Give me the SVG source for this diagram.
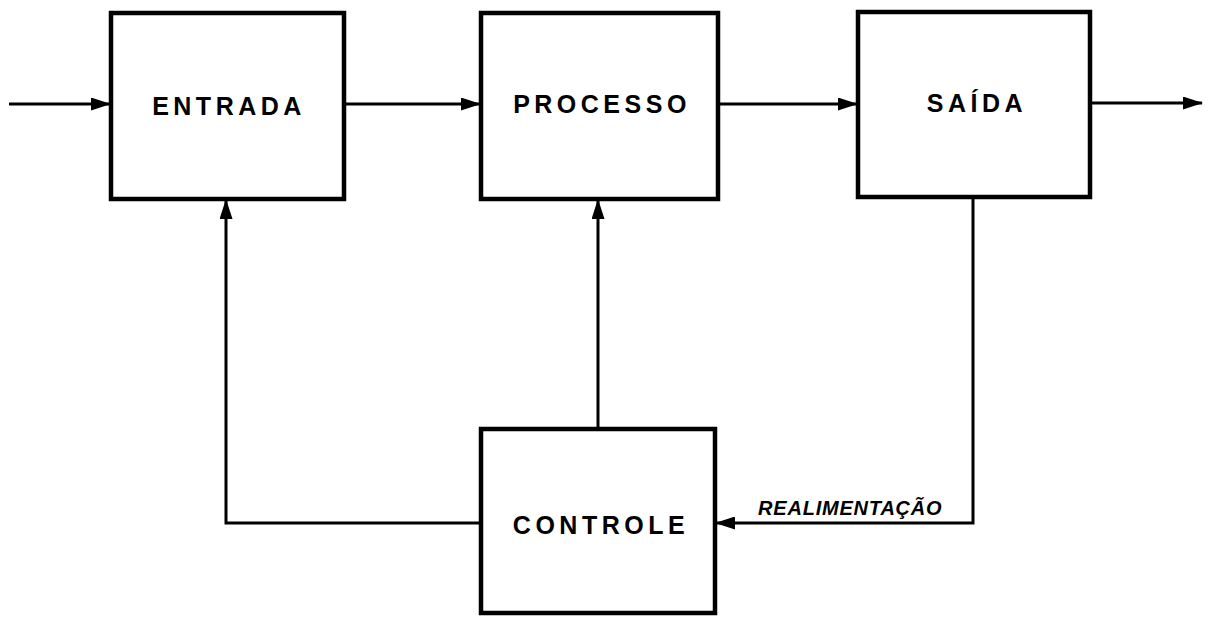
<svg xmlns="http://www.w3.org/2000/svg" width="1209" height="617" viewBox="0 0 1209 617">
  <style>
    .box { fill: #fff; stroke: #000; stroke-width: 4.5; }
    .lbl { font-family: "Liberation Sans", Arial, sans-serif; font-weight: bold; font-size: 25px; letter-spacing: 4.5px; text-anchor: middle; fill: #000; }
    .wire { fill: none; stroke: #000; stroke-width: 3; }
    .note { font-family: "Liberation Sans", Arial, sans-serif; font-weight: bold; font-style: italic; font-size: 20px; letter-spacing: 0.8px; fill: #000; }
  </style>
  <defs>
    <!-- solid triangular arrowhead, sized in user units -->
    <marker id="arrow" viewBox="0 0 20 13" refX="19" refY="6.5" markerWidth="20" markerHeight="13" markerUnits="userSpaceOnUse" orient="auto">
      <path d="M0,0 L20,6.5 L0,13 Z" fill="#000"/>
    </marker>
  </defs>
  <rect width="1209" height="617" fill="#fff"/>

  <g id="connectors">
    <line class="wire" x1="9" y1="104" x2="110" y2="104" marker-end="url(#arrow)"/>
    <line class="wire" x1="344" y1="104" x2="480" y2="104" marker-end="url(#arrow)"/>
    <line class="wire" x1="718" y1="104" x2="857" y2="104" marker-end="url(#arrow)"/>
    <line class="wire" x1="1090" y1="103" x2="1202" y2="103" marker-end="url(#arrow)"/>
    <polyline class="wire" points="480,523 226,523 226,200" marker-end="url(#arrow)"/>
    <line class="wire" x1="598" y1="429" x2="598" y2="200" marker-end="url(#arrow)"/>
    <polyline class="wire" points="973,197 973,523 716,523" marker-end="url(#arrow)"/>
    <text class="note" x="758" y="515">REALIMENTAÇÃO</text>
  </g>

  <g id="entrada">
    <rect class="box" x="111" y="13" width="233" height="186"/>
    <text class="lbl" x="229" y="115">ENTRADA</text>
  </g>
  <g id="processo">
    <rect class="box" x="481" y="13" width="237" height="186"/>
    <text class="lbl" x="602" y="113">PROCESSO</text>
  </g>
  <g id="saida">
    <rect class="box" x="858" y="12" width="232" height="185"/>
    <text class="lbl" x="977" y="112">SAÍDA</text>
  </g>
  <g id="controle">
    <rect class="box" x="481" y="429" width="234" height="184"/>
    <text class="lbl" x="601" y="534">CONTROLE</text>
  </g>
</svg>
